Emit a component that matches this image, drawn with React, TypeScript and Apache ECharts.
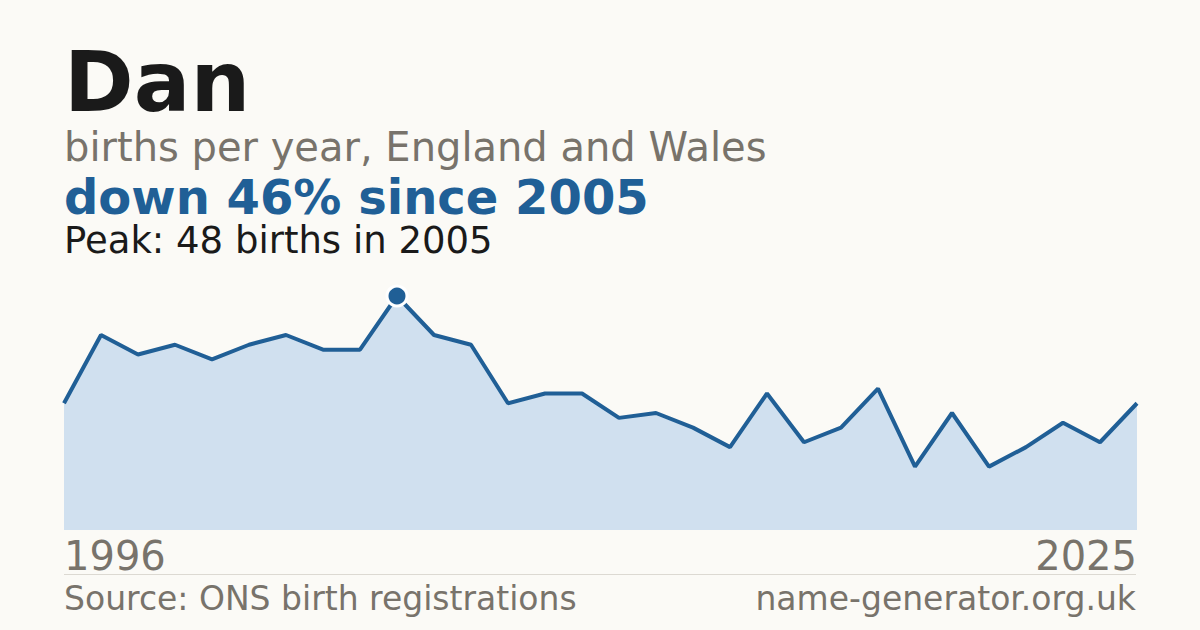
import { useEffect, useRef } from "react";
import * as echarts from "echarts";

const years = [
  "1996", "1997", "1998", "1999", "2000", "2001", "2002", "2003", "2004", "2005",
  "2006", "2007", "2008", "2009", "2010", "2011", "2012", "2013", "2014", "2015",
  "2016", "2017", "2018", "2019", "2020", "2021", "2022", "2023", "2024", "2025",
];
const births = [
  26, 40, 36, 38, 35, 38, 40, 37, 37, 48,
  40, 38, 26, 28, 28, 23, 24, 21, 17, 28,
  18, 21, 29, 13, 24, 13, 17, 22, 18, 26,
];

const title = "Dan";
const subtitle = "births per year, England and Wales";
const headline = "down 46% since 2005";
const peakNote = "Peak: 48 births in 2005";
const source = "Source: ONS birth registrations";
const site = "name-generator.org.uk";

const FONT = "'DejaVu Sans', Verdana, sans-serif";
const BG = "#fbfaf6";
const INK = "#1a1a1a";
const GREY = "#78736b";
const BLUE = "#205f96";
const FILL = "#d0e0ef";

const App = () => {
  const chartRef = useRef<HTMLDivElement | null>(null);

  useEffect(() => {
    document.body.style.margin = "0";
    if (!chartRef.current) {
      return;
    }
    const instance = echarts.init(chartRef.current, undefined, {
      renderer: "svg",
    });

    const peakIndex = births.indexOf(Math.max(...births));
    const last = years.length - 1;

    // y of the text middle for a given alphabetic baseline (DejaVu metrics)
    const mid = (baseline: number, size: number) => baseline - 0.346 * size;

    const text = (
      str: string,
      x: number,
      baseline: number,
      size: number,
      fill: string,
      bold = false,
      align: "left" | "right" = "left",
    ) => ({
      type: "text" as const,
      style: {
        text: str,
        x,
        y: mid(baseline, size),
        font: `${bold ? "bold " : ""}${size}px ${FONT}`,
        lineHeight: Math.round(size * 0.8),
        fill,
        align,
        verticalAlign: "middle" as const,
      },
    });

    const option: echarts.EChartsOption = {
      animation: false,
      backgroundColor: BG,
      textStyle: { fontFamily: FONT },
      grid: { left: 64, right: 63, top: 296, bottom: 100 },
      xAxis: {
        type: "category",
        data: years,
        boundaryGap: false,
        axisLine: { show: false },
        axisTick: { show: false },
        splitLine: { show: false },
        axisLabel: {
          interval: (i: number) => i === 0 || i === last,
          showMinLabel: true,
          showMaxLabel: true,
          alignMinLabel: "left",
          alignMaxLabel: "right",
          color: GREY,
          fontSize: 40,
          fontFamily: FONT,
          margin: 6,
        },
      },
      yAxis: {
        type: "value",
        min: 0,
        max: 48,
        show: false,
      },
      series: [
        {
          type: "line",
          data: births,
          symbol: "none",
          clip: false,
          lineStyle: { width: 4, color: BLUE },
          areaStyle: { color: FILL, opacity: 1 },
        },
        {
          type: "scatter",
          data: [[peakIndex, births[peakIndex]]],
          symbol: "circle",
          symbolSize: 20,
          clip: false,
          itemStyle: {
            color: BLUE,
            opacity: 1,
            borderColor: "#ffffff",
            borderWidth: 3,
          },
          z: 5,
        },
      ],
      graphic: [
        text(title, 64, 111.5, 84, INK, true),
        text(subtitle, 64, 160.5, 40, GREY),
        text(headline, 64, 213.5, 48, BLUE, true),
        text(peakNote, 64, 253, 37, INK),
        {
          type: "line",
          shape: { x1: 64, y1: 574.5, x2: 1136, y2: 574.5 },
          style: { stroke: "#dcd9d2", lineWidth: 1 },
        },
        text(source, 64, 610, 33, GREY),
        text(site, 1136, 610, 33, GREY, false, "right"),
      ],
    };

    instance.setOption(option);

    return () => {
      instance.dispose();
    };
  }, []);

  return (
    <div
      ref={chartRef}
      style={{ position: "fixed", left: 0, top: 0, width: 1200, height: 630 }}
    />
  );
};

export default App;
